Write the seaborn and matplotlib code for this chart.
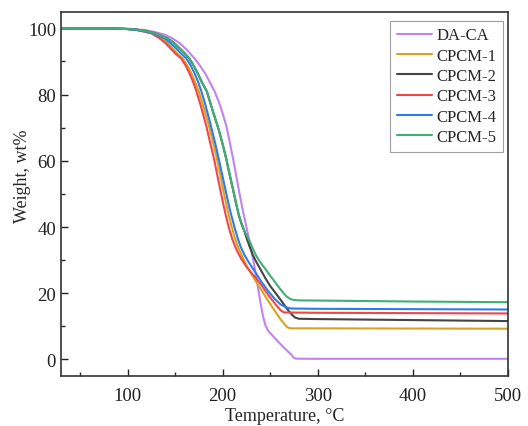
import numpy as np
import pandas as pd
import matplotlib
matplotlib.use("Agg")
import matplotlib.pyplot as plt
import seaborn as sns
from matplotlib.ticker import MultipleLocator

# TGA curves (temperature in C, weight in wt%)
t_daca = [30, 80, 100, 110, 120, 130, 140, 147, 155, 162, 170.5, 176, 182, 187, 191.6, 196, 200, 203.9,
          207, 210.8, 214, 217.2, 221, 225, 228, 231, 234, 237, 240, 242.5, 245, 248, 252, 256, 260,
          264, 268, 272, 275, 277, 300, 400, 500]
w_daca = [100, 100, 99.9, 99.7, 99.4, 98.8, 98, 97, 95.5, 93.6, 90.9, 88.8, 86.2, 83.5, 80.9, 77.8, 74.3, 70.5,
          66.3, 60.9, 55.9, 50.9, 45.3, 40, 36, 31.8, 27.2, 22, 16.8, 13, 10.3, 8.6, 7.4, 6.1, 4.9,
          3.7, 2.6, 1.5, 0.5, 0.25, 0.2, 0.2, 0.2]

t_cpcm1 = [30, 80, 100, 110, 118, 126, 136, 142, 148, 153, 158, 163, 167, 171, 175, 179, 183, 186.3, 190,
           194, 197.5, 201, 205, 209, 212, 215, 218.5, 222, 226, 230, 235, 240, 245, 250, 255, 260, 264,
           268, 272, 300, 400, 500]
w_cpcm1 = [100, 100, 99.8, 99.5, 99, 98.5, 97, 95.5, 93.8, 92.2, 90.9, 88.7, 86.5, 83.8, 80.9, 77.2, 73.2, 69.8, 65.5,
           60.6, 55.8, 50.7, 45.3, 40.6, 37.5, 34.9, 32.4, 30.2, 28.0, 26.0, 23.6, 21.3, 19.0, 16.8, 14.6, 12.5, 11.0,
           9.7, 9.4, 9.4, 9.35, 9.3]

t_cpcm2 = [30, 80, 100, 110, 120, 130, 142, 148, 154, 160, 165, 170, 174, 178, 183.5, 187, 191, 195.8, 200,
           203.9, 207, 210.8, 214, 217, 220, 223, 226, 229, 232, 235.5, 240, 245, 250, 255, 260, 265, 269,
           273, 276, 280, 300, 400, 500]
w_cpcm2 = [100, 100, 99.8, 99.6, 99.2, 98.4, 97, 95.8, 94.2, 92.5, 90.9, 88.5, 86.3, 83.8, 80.9, 77.5, 73.8, 69.5, 65,
           60.5, 56.3, 51.5, 47.3, 43.5, 40.8, 38.6, 36.0, 33.6, 31.4, 29.4, 27.1, 24.5, 22.2, 20.3, 18.4, 16.4, 14.8,
           13.5, 12.7, 12.3, 12.2, 11.9, 11.6]

t_cpcm3 = [30, 80, 100, 110, 118, 125, 133.7, 140, 146, 151, 156.5, 161, 165, 169, 172, 176, 180, 183, 187,
           191, 194, 197.5, 201, 204, 207, 210, 213, 216, 220, 225, 230, 235, 240, 245, 250, 255, 259, 262,
           265, 300, 400, 500]
w_cpcm3 = [100, 100, 99.8, 99.5, 99, 98.5, 97, 95.5, 93.7, 92.2, 90.9, 88.8, 86.5, 83.8, 81.3, 77.6, 73.5, 70.3, 65.3,
           60.5, 56.2, 51.3, 46.5, 42.7, 39.3, 36.5, 34.2, 32.3, 30.2, 28.0, 26.2, 24.6, 22.8, 20.7, 18.7, 16.9, 15.5, 14.6,
           14.2, 14.1, 14.0, 13.9]

t_cpcm4 = [30, 80, 100, 110, 120, 129, 139, 145, 151, 156, 161.8, 166, 170, 174, 177.6, 181, 185, 189, 193,
           196.8, 200.5, 203.9, 208, 212.6, 216, 219, 223, 228, 234, 240.7, 248, 254.7, 261, 267, 272,
           300, 400, 500]
w_cpcm4 = [100, 100, 99.8, 99.5, 99, 98.3, 97, 95.6, 94, 92.5, 90.9, 89, 86.7, 84, 81, 77.8, 73.5, 69, 64.3,
           59.4, 54.5, 50, 44.8, 39.8, 36.5, 34, 31.5, 29.1, 26.5, 23.5, 20.6, 18.3, 16.6, 15.7, 15.4,
           15.3, 15.2, 15.1]

t_cpcm5 = [30, 80, 100, 110, 120, 130, 142, 148, 154, 160, 165, 170, 174, 178, 183.5, 187, 191, 195.8, 200,
           203.9, 207, 210.8, 214, 217, 220, 223, 226, 229, 232, 235.5, 240, 245, 249.5, 254, 258, 263,
           267, 271, 275, 280, 300, 400, 500]
w_cpcm5 = [100, 100, 99.8, 99.6, 99.2, 98.4, 97, 95.8, 94.2, 92.5, 90.9, 88.5, 86.3, 83.8, 80.9, 77.5, 73.8, 69.5, 65,
           60.5, 56.3, 51.5, 47.3, 43.8, 41, 38.8, 37.1, 35.3, 33.3, 31.2, 29.2, 27.3, 25.5, 23.8, 22.2, 20.4,
           19.1, 18.3, 17.95, 17.85, 17.8, 17.5, 17.3]

names = ["DA-CA", "CPCM-1", "CPCM-2", "CPCM-3", "CPCM-4", "CPCM-5"]
temps = [t_daca, t_cpcm1, t_cpcm2, t_cpcm3, t_cpcm4, t_cpcm5]
weights = [w_daca, w_cpcm1, w_cpcm2, w_cpcm3, w_cpcm4, w_cpcm5]
colors = ["#C283EE", "#D9A21E", "#444444", "#F44545", "#2C7CEE", "#3DB073"]

df = pd.concat([pd.DataFrame({"T": t, "W": w, "sample": n}) for t, w, n in zip(temps, weights, names)],
               ignore_index=True)

sns.set_style("ticks")
plt.rcParams['font.family'] = ['Liberation Serif', 'DejaVu Serif']

fig = plt.figure(figsize=(5.28, 4.27), dpi=100)
ax = fig.add_axes([0.1155, 0.117, 0.8465, 0.853])

sns.lineplot(data=df, x="T", y="W", hue="sample", palette=dict(zip(names, colors)),
             sort=False, estimator=None, linewidth=1.5, ax=ax)

ax.set_xlim(30, 500)
ax.set_ylim(-5, 105)
ax.xaxis.set_major_locator(MultipleLocator(100))
ax.xaxis.set_minor_locator(MultipleLocator(50))
ax.yaxis.set_major_locator(MultipleLocator(20))
ax.yaxis.set_minor_locator(MultipleLocator(10))
ax.tick_params(which='major', direction='in', length=5, width=1, labelsize=13.5, colors='#222222')
ax.tick_params(which='minor', direction='in', length=3, width=1)
ax.tick_params(axis='x', pad=8)
for s in ax.spines.values():
    s.set_linewidth(1.2)
    s.set_color('#333333')

ax.set_xlabel("Temperature, °C", fontsize=13)
ax.set_ylabel("Weight, wt%", fontsize=13)
ax.xaxis.set_label_coords(0.5, -0.086)
ax.yaxis.set_label_coords(-0.068, 0.55)

leg = ax.legend(loc='upper right', bbox_to_anchor=(1 - 5 / 447, 1 - 9 / 364), borderaxespad=0,
                fontsize=12, frameon=True, fancybox=False,
                handlelength=2.1, handletextpad=0.25, labelspacing=0.26, borderpad=0.4)
leg.get_frame().set_edgecolor('#888888')
leg.get_frame().set_linewidth(0.8)
for line in leg.get_lines():
    line.set_linewidth(1.5)

fig.savefig("out.png", dpi=100)
